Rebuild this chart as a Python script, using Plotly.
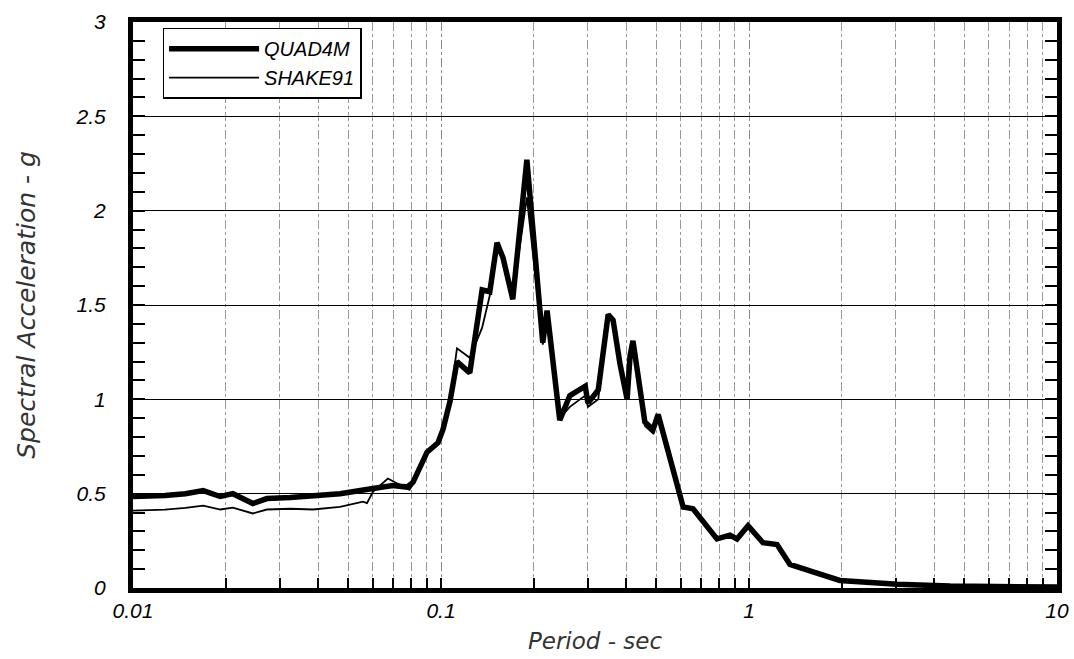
import plotly.graph_objects as go

# Period (s) and spectral acceleration (g)
quad_T = [0.01, 0.0109, 0.0127, 0.0148, 0.0169, 0.0192, 0.0211, 0.0245, 0.0272, 0.0324,
          0.0384, 0.047, 0.0601, 0.0698, 0.0776, 0.0811, 0.0901, 0.0978, 0.1015, 0.107,
          0.1127, 0.124, 0.136, 0.144, 0.152, 0.159, 0.171, 0.19, 0.214, 0.221,
          0.243, 0.262, 0.294, 0.300, 0.324, 0.349, 0.362, 0.381, 0.402, 0.411,
          0.420, 0.459, 0.488, 0.507, 0.575, 0.611, 0.658, 0.787, 0.867, 0.914,
          0.993, 1.11, 1.233, 1.358, 1.614, 1.973, 3.03, 4.5, 10.0]
quad_SA = [0.485, 0.485, 0.49, 0.50, 0.516, 0.485, 0.50, 0.448, 0.474, 0.48,
           0.49, 0.50, 0.527, 0.543, 0.535, 0.56, 0.72, 0.77, 0.84, 0.99,
           1.20, 1.14, 1.58, 1.57, 1.83, 1.75, 1.53, 2.27, 1.30, 1.47,
           0.89, 1.02, 1.07, 0.98, 1.05, 1.45, 1.42, 1.19, 1.00, 1.23,
           1.31, 0.88, 0.84, 0.92, 0.59, 0.43, 0.42, 0.26, 0.28, 0.26,
           0.33, 0.24, 0.23, 0.125, 0.085, 0.04, 0.02, 0.01, 0.005]

shake_T = [0.01, 0.0127, 0.0148, 0.0169, 0.0192, 0.0211, 0.0245, 0.0272, 0.0324, 0.0384,
           0.047, 0.0558, 0.0575, 0.0601, 0.0672, 0.0764, 0.079, 0.0811, 0.0901, 0.0978,
           0.1015, 0.107, 0.1127, 0.124, 0.136, 0.144, 0.152, 0.159, 0.171, 0.19,
           0.214, 0.221, 0.243, 0.262, 0.294, 0.300, 0.324, 0.349, 0.362, 0.381,
           0.402, 0.411, 0.420, 0.459, 0.488, 0.507, 0.575, 0.611, 0.658, 0.787,
           0.867, 0.914, 0.993, 1.11, 1.233, 1.358, 1.614, 1.973, 3.03, 4.5, 10.0]
shake_SA = [0.41, 0.415, 0.425, 0.437, 0.416, 0.426, 0.395, 0.416, 0.42, 0.416,
            0.43, 0.458, 0.45, 0.51, 0.58, 0.53, 0.52, 0.55, 0.72, 0.77,
            0.84, 1.00, 1.27, 1.22, 1.38, 1.55, 1.80, 1.75, 1.55, 2.07,
            1.29, 1.42, 0.90, 0.96, 1.02, 0.96, 1.00, 1.45, 1.42, 1.19,
            1.00, 1.22, 1.30, 0.86, 0.82, 0.91, 0.59, 0.42, 0.42, 0.26,
            0.28, 0.26, 0.33, 0.24, 0.23, 0.125, 0.085, 0.04, 0.02, 0.01, 0.005]

x_tickvals = [0.01, 0.1, 1, 10]
x_ticktext = ["0.01", "0.1", "1", "10"]
y_tickvals = [0, 0.5, 1, 1.5, 2, 2.5, 3]
y_ticktext = ["0", "0.5", "1", "1.5", "2", "2.5", "3"]

tick_font = dict(family="Liberation Sans, Arial", size=21, color="black", style="italic")
xtitle_font = dict(family="DejaVu Sans, sans-serif", size=23, color="#333", style="italic")
ytitle_font = dict(family="DejaVu Sans, sans-serif", size=25, color="#333", style="italic")

fig = go.Figure()
fig.add_trace(go.Scatter(x=quad_T, y=quad_SA, mode="lines", name="QUAD4M",
                         line=dict(color="black", width=5.5)))
fig.add_trace(go.Scatter(x=shake_T, y=shake_SA, mode="lines", name="SHAKE91",
                         line=dict(color="black", width=1.8)))

fig.update_layout(
    width=1074, height=659,
    margin=dict(l=133, r=17, t=22, b=71),
    paper_bgcolor="white", plot_bgcolor="white",
    showlegend=True,
    legend=dict(x=0.032, y=0.99, xanchor="left", yanchor="top",
                bgcolor="white", bordercolor="black", borderwidth=1.5,
                font=dict(family="Liberation Sans, Arial", size=20, color="black", style="italic"),
                itemwidth=90, tracegroupgap=2),
    xaxis=dict(
        type="log", range=[-2, 1], automargin=False,
        tickvals=x_tickvals, ticktext=x_ticktext,
        ticks="inside", ticklen=10, tickwidth=2, tickcolor="black",
        showline=True, linewidth=5, linecolor="black", mirror=True,
        showgrid=True, gridcolor="#888", gridwidth=1, griddash="dashdot",
        minor=dict(dtick="D1", ticks="inside", ticklen=10, tickwidth=2, tickcolor="black",
                   showgrid=True, gridcolor="#999", gridwidth=1, griddash="dashdot"),
        tickfont=tick_font,
        title=dict(text="Period - sec", font=xtitle_font, standoff=13),
        zeroline=False,
    ),
    yaxis=dict(
        range=[0, 3], automargin=False,
        tickvals=y_tickvals, ticktext=y_ticktext,
        ticks="inside", ticklen=12, tickwidth=2, tickcolor="black",
        showline=True, linewidth=5, linecolor="black", mirror="allticks",
        showgrid=True, gridcolor="black", gridwidth=1,
        minor=dict(dtick=0.1, ticks="inside", ticklen=12, tickwidth=2, tickcolor="black",
                   showgrid=False),
        tickfont=tick_font,
        ticklabelstandoff=18,
        title=dict(text="Spectral Acceleration - g", font=ytitle_font, standoff=34),
        zeroline=False,
    ),
)

fig.write_html("out.html")
